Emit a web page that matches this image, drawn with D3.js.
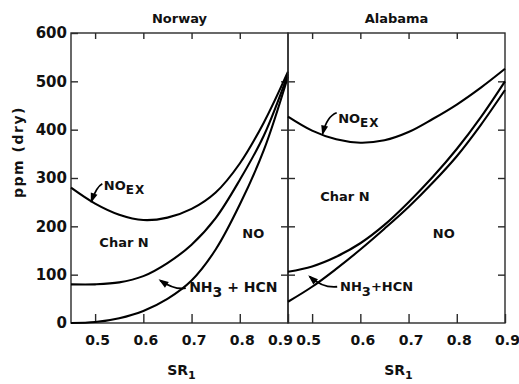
<!DOCTYPE html>
<html>
<head>
<meta charset="utf-8">
<script src="https://cdn.jsdelivr.net/npm/d3@7"></script>
<style>
  html, body { margin: 0; padding: 0; background: #fff; }
  svg text { font-family: "DejaVu Sans", sans-serif; font-weight: bold; fill: #111; }
</style>
</head>
<body>
<svg id="chart" width="519" height="384"></svg>
<script>
// Stoichiometric ratio grid shared by both panels
const sr = [0.45, 0.50, 0.55, 0.60, 0.65, 0.70, 0.75, 0.80, 0.85, 0.90];

// Norway coal, ppm (dry)
const norwayNOex  = [280, 247, 224, 213, 218, 236, 270, 330, 415, 520];
const norwayCharN = [80, 80, 84, 97, 124, 162, 217, 296, 388, 515];
const norwayNH3   = [0, 2, 10, 25, 50, 88, 152, 245, 358, 510];

// Alabama coal, ppm (dry)
const alabamaNOex  = [427, 398, 380, 373, 378, 395, 422, 452, 487, 526];
const alabamaCharN = [106, 117, 137, 165, 203, 250, 302, 360, 426, 500];
const alabamaNH3   = [44, 75, 112, 152, 195, 240, 290, 345, 410, 482];

const panelTitles = ["Norway", "Alabama"];
const xTicks = [0.5, 0.6, 0.7, 0.8, 0.9];
const yTicks = [0, 100, 200, 300, 400, 500, 600];
const xTitle = "SR";
const xTitleSub = "1";
const yTitle = "ppm (dry)";

(function draw() {
  const svg = d3.select("#chart");
  const plotTop = 33, plotBottom = 323;
  const panelLeft = [71, 288];
  const panelRight = [288, 505];

  const y = d3.scaleLinear().domain([0, 600]).range([plotBottom, plotTop]);

  const panels = [
    { title: panelTitles[0], curves: [norwayNOex, norwayCharN, norwayNH3] },
    { title: panelTitles[1], curves: [alabamaNOex, alabamaCharN, alabamaNH3] }
  ];

  const axisColor = "#2a2a2a";

  panels.forEach((p, i) => {
    const x = d3.scaleLinear().domain([0.45, 0.9]).range([panelLeft[i], panelRight[i]]);
    p.x = x;
    const g = svg.append("g");

    // frame
    g.append("rect")
      .attr("x", x(0.45)).attr("y", y(600))
      .attr("width", x(0.9) - x(0.45)).attr("height", y(0) - y(600))
      .attr("fill", "none").attr("stroke", axisColor).attr("stroke-width", 1.4);

    // bottom axis: inward ticks with labels; the shared 0.9 / 0.5 pair is pushed apart
    const bx = g.append("g").attr("transform", `translate(0,${plotBottom})`)
      .call(d3.axisBottom(x).tickValues(xTicks).tickSize(-9).tickPadding(12)
        .tickFormat(d3.format(".1f")));
    bx.select(".domain").remove();
    bx.selectAll(".tick line").attr("stroke", axisColor).attr("stroke-width", 1.4);
    bx.selectAll(".tick text").attr("font-size", 14).attr("font-family", "DejaVu Sans")
      .attr("font-weight", "bold").attr("fill", "#111")
      .attr("dx", d => (i === 0 && d === 0.9) ? -8 : (i === 1 && d === 0.5) ? -4 : 2);

    // top axis: inward ticks only
    const tx = g.append("g").attr("transform", `translate(0,${plotTop})`)
      .call(d3.axisTop(x).tickValues(xTicks.slice(0, 4)).tickSize(-6).tickFormat(""));
    tx.select(".domain").remove();
    tx.selectAll(".tick line").attr("stroke", axisColor).attr("stroke-width", 1.4);

    // left side ticks (labels only on the first panel)
    const ly = g.append("g").attr("transform", `translate(${x(0.45)},0)`)
      .call(d3.axisLeft(y).tickValues(yTicks.slice(1, i === 0 ? 7 : 6)).tickSize(-7).tickPadding(4)
        .tickFormat(i === 0 ? d3.format("d") : ""));
    ly.select(".domain").remove();
    ly.selectAll(".tick line").attr("stroke", axisColor).attr("stroke-width", 1.4);
    ly.selectAll(".tick text").attr("font-size", 15).attr("font-family", "DejaVu Sans")
      .attr("font-weight", "bold").attr("fill", "#111");
    if (i === 0) {
      // the zero label sits on the bottom axis without its own tick
      ly.append("text").attr("x", -4).attr("y", y(0)).attr("dy", "0.32em")
        .attr("text-anchor", "end").attr("font-size", 15).text(d3.format("d")(yTicks[0]));
    }

    // right side ticks
    const ry = g.append("g").attr("transform", `translate(${x(0.9)},0)`)
      .call(d3.axisRight(y).tickValues(yTicks.slice(1, 6)).tickSize(-7).tickFormat(""));
    ry.select(".domain").remove();
    ry.selectAll(".tick line").attr("stroke", axisColor).attr("stroke-width", 1.4);

    // curves
    const line = d3.line().x((d, k) => x(sr[k])).y(d => y(d)).curve(d3.curveCatmullRom.alpha(0.5));
    p.curves.forEach(c => {
      g.append("path").attr("d", line(c))
        .attr("fill", "none").attr("stroke", "#000").attr("stroke-width", 2.1);
    });

    // panel title
    g.append("text").attr("x", (x(0.45) + x(0.9)) / 2).attr("y", 23)
      .attr("text-anchor", "middle").attr("font-size", 13).text(p.title);

    // axis title SR1
    const t = g.append("text").attr("x", (x(0.45) + x(0.9)) / 2 + 2).attr("y", 375)
      .attr("text-anchor", "middle").attr("font-size", 14);
    t.append("tspan").text(xTitle);
    t.append("tspan").attr("dy", 4).attr("font-size", 11).text(xTitleSub);
  });

  // y axis title
  svg.append("text")
    .attr("transform", `translate(23,152) rotate(-90)`)
    .attr("text-anchor", "middle").attr("font-size", 14).attr("letter-spacing", 1.5)
    .text(yTitle);

  // region labels, positioned in data coordinates
  const labels = [
    { panel: 0, kind: "noex", at: [0.518, 275] },
    { panel: 0, kind: "char", at: [0.56, 158] },
    { panel: 0, kind: "no", at: [0.828, 176] },
    { panel: 0, kind: "nh3", at: [0.695, 64], wide: true },
    { panel: 1, kind: "noex", at: [0.554, 413] },
    { panel: 1, kind: "char", at: [0.568, 253] },
    { panel: 1, kind: "no", at: [0.773, 176] },
    { panel: 1, kind: "nh3", at: [0.558, 66], wide: false }
  ];

  labels.forEach(l => {
    const x = panels[l.panel].x;
    const px = x(l.at[0]), py = y(l.at[1]);
    const t = svg.append("text").attr("x", px).attr("y", py).attr("font-size", 13);
    if (l.kind === "noex") {
      t.append("tspan").text("NO");
      t.append("tspan").attr("dy", 4).attr("font-size", 12).attr("letter-spacing", 1).text("EX");
    } else if (l.kind === "nh3") {
      t.attr("font-size", l.wide ? 14 : 13);
      t.append("tspan").text("NH");
      t.append("tspan").attr("dy", 5).text("3");
      t.append("tspan").attr("dy", -5).text(l.wide ? " + HCN" : "+HCN");
    } else {
      t.attr("text-anchor", "middle").text(l.kind === "char" ? "Char N" : "NO");
    }
  });

  // annotation arrows: [tail, control, head] in data coordinates
  const arrows = [
    { panel: 0, pts: [[0.515, 288], [0.503, 282], [0.4925, 252]] },
    { panel: 1, pts: [[0.551, 435], [0.531, 428], [0.522, 392]] },
    { panel: 0, pts: [[0.688, 72], [0.665, 68], [0.635, 88]] },
    { panel: 1, pts: [[0.552, 75], [0.522, 72], [0.495, 96]] }
  ];

  arrows.forEach(a => {
    const x = panels[a.panel].x;
    const [p0, p1, p2] = a.pts.map(d => [x(d[0]), y(d[1])]);
    svg.append("path")
      .attr("d", `M${p0[0]},${p0[1]} Q${p1[0]},${p1[1]} ${p2[0]},${p2[1]}`)
      .attr("fill", "none").attr("stroke", "#000").attr("stroke-width", 1.8);
    const ang = Math.atan2(p2[1] - p1[1], p2[0] - p1[0]);
    const len = 8, wid = 3.5;
    const bx = p2[0] - len * Math.cos(ang), by = p2[1] - len * Math.sin(ang);
    const nx = -Math.sin(ang) * wid, ny = Math.cos(ang) * wid;
    const tipX = p2[0] + 2 * Math.cos(ang), tipY = p2[1] + 2 * Math.sin(ang);
    svg.append("path")
      .attr("d", `M${tipX},${tipY} L${bx + nx},${by + ny} L${bx - nx},${by - ny} Z`)
      .attr("fill", "#000");
  });
})();
</script>
</body>
</html>
